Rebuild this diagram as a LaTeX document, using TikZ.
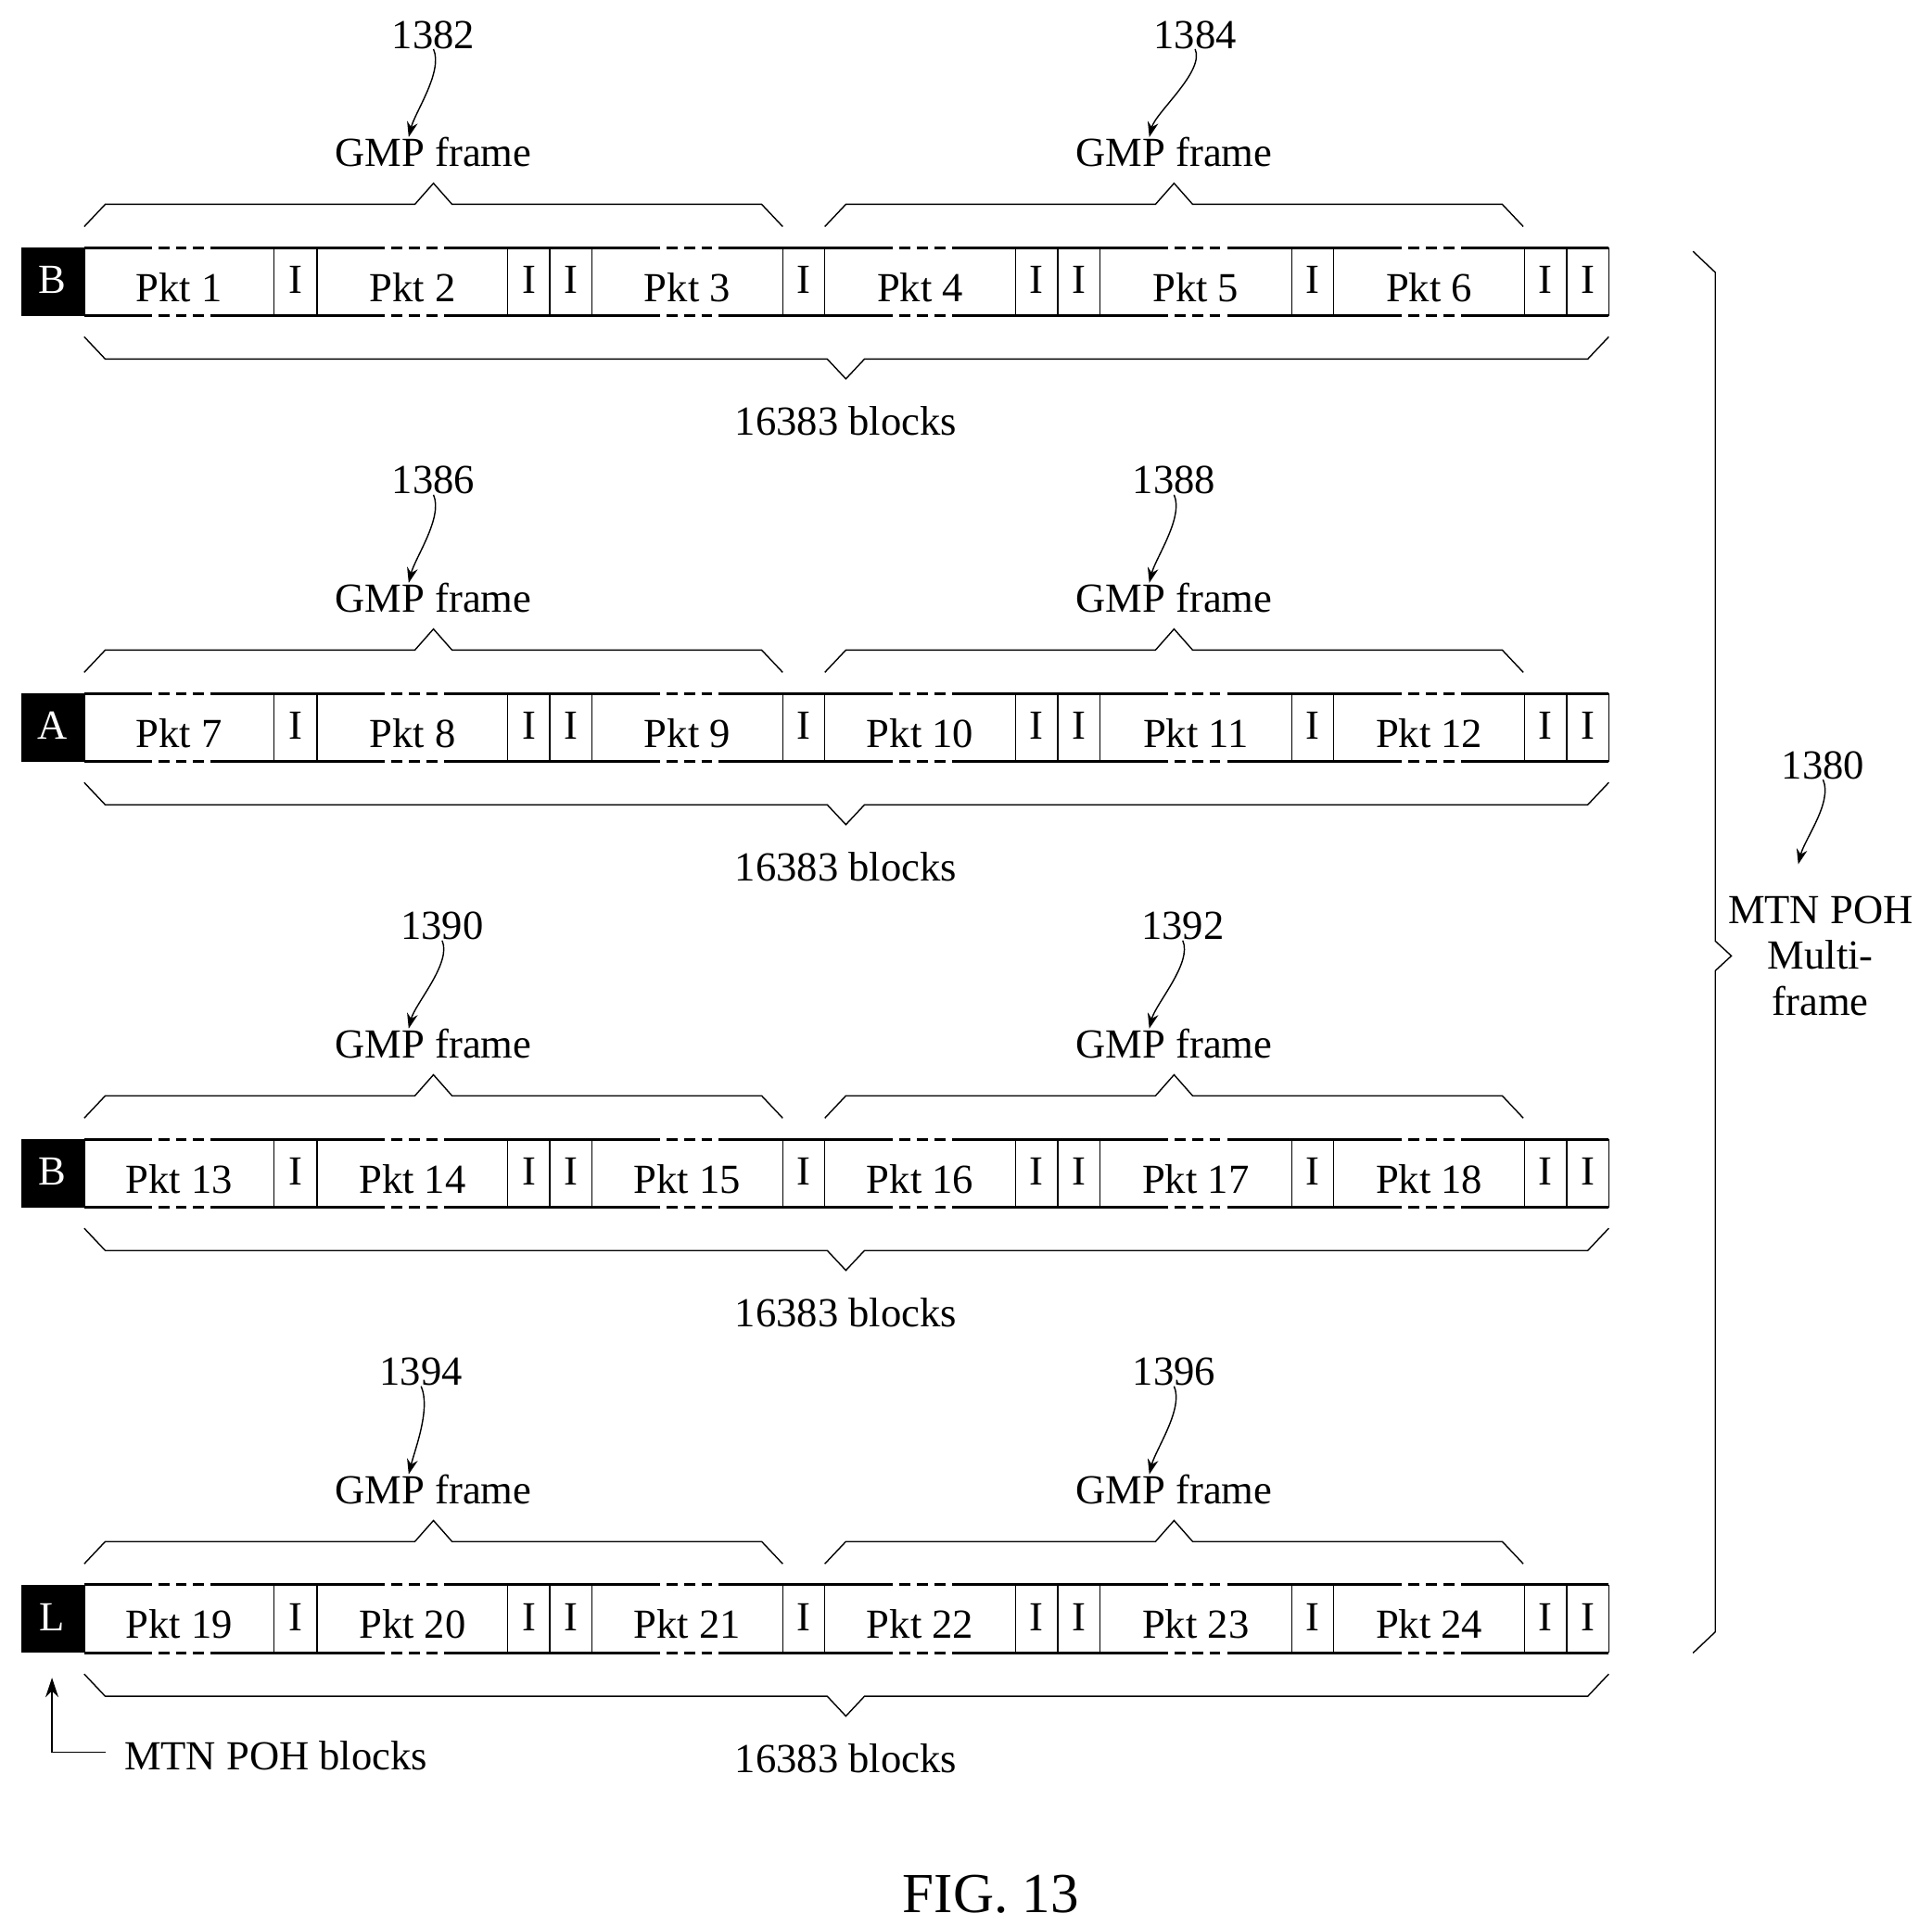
\documentclass[tikz,border=0pt]{standalone}
\usepackage{fontspec}
\setmainfont{Liberation Serif}
\usetikzlibrary{arrows.meta}
\begin{document}
\begin{tikzpicture}[x=0.02cm,y=-0.02cm,
  txt/.style={font=\fontsize{19}{19}\selectfont,inner sep=0pt},
  big/.style={font=\fontsize{26}{26}\selectfont,inner sep=0pt},
  edge/.style={line width=1.3pt},
  thin/.style={line width=0.6pt},
  ref/.style={-{Stealth[length=7pt,width=5pt]},line width=0.6pt}]
\useasboundingbox (0,0) rectangle (1560,1555);
\newcommand\pktrow[7]{%
  \def\Y{#1}%
  \fill ({17},{\Y}) rectangle ({68},{\Y+55});
  \node[txt,text=white] (L#2) at ({42},{\Y+26}) {#2};
  \foreach \a/\b/\k in {68/221/1,256/410/2,478/632/3,666/820/4,888/1043/5,1077/1231/6}{
    \pgfmathsetmacro\w{\b-\a}
    \pgfmathtruncatemacro\n{#3+\k}
    \draw[edge] ({\a},{\Y}) -- ({\a+0.3*\w},{\Y}) ({\b-0.3*\w},{\Y}) -- ({\b},{\Y});
    \draw[edge] ({\a},{\Y+55}) -- ({\a+0.3*\w},{\Y+55}) ({\b-0.3*\w},{\Y+55}) -- ({\b},{\Y+55});
    \draw[edge,dash pattern=on 5pt off 3pt] ({\a+0.3*\w},{\Y}) -- ({\b-0.3*\w},{\Y});
    \draw[edge,dash pattern=on 5pt off 3pt] ({\a+0.3*\w},{\Y+55}) -- ({\b-0.3*\w},{\Y+55});
    \draw[thin] ({\a},{\Y}) -- ({\a},{\Y+55});
    \node[txt] (p\n) at ({(\a+\b)/2},{\Y+32}) {Pkt \n};
  }
  \foreach \a/\b in {221/256,410/444,444/478,632/666,820/854,854/888,1043/1077,1231/1265,1265/1299}{
    \draw[edge] ({\a},{\Y}) -- ({\b},{\Y}) ({\a},{\Y+55}) -- ({\b},{\Y+55});
    \draw[thin] ({\a},{\Y}) -- ({\a},{\Y+55}) ({\b},{\Y}) -- ({\b},{\Y+55});
    \node[txt] at ({(\a+\b)/2},{\Y+26}) {I};
  }
  \draw[thin] (68,\Y-17) -- (85,\Y-35) -- (335,\Y-35) -- (350,\Y-52) -- (365,\Y-35) -- (615,\Y-35) -- (632,\Y-17);
  \draw[thin] (666,\Y-17) -- (683,\Y-35) -- (933,\Y-35) -- (948,\Y-52) -- (963,\Y-35) -- (1213,\Y-35) -- (1230,\Y-17);
  \draw[thin] (68,\Y+72) -- (85,\Y+90) -- (668,\Y+90) -- (683,\Y+106) -- (698,\Y+90) -- (1282,\Y+90) -- (1299,\Y+72);
  \node[txt] (g1#3) at (350,\Y-77) {GMP frame};
  \node[txt] (g2#3) at (948,\Y-77) {GMP frame};
  \node[txt] (b#3) at (683,\Y+140) {16383 blocks};
  \node[txt] (n#4) at (#5,\Y-172) {#4};
  \node[txt] (n#6) at (#7,\Y-172) {#6};
  \draw[ref] (n#4.south) .. controls ++(8,18) and ++(5,-20) .. ([xshift=-20*0.02cm]g1#3.north);
  \draw[ref] (n#6.south) .. controls ++(8,18) and ++(5,-20) .. ([xshift=-20*0.02cm,yshift=0pt]g2#3.north);
}
\pktrow{200}{B}{0}{1382}{350}{1384}{965}
\pktrow{560}{A}{6}{1386}{350}{1388}{948}
\pktrow{920}{B}{12}{1390}{357}{1392}{955}
\pktrow{1280}{L}{18}{1394}{340}{1396}{948}
% right brace
\draw[thin] (1367,203) -- (1385,220) -- (1385,760) -- (1398,772) -- (1385,784) -- (1385,1318) -- (1367,1335);
\node[txt] (n1380) at (1472,618) {1380};
\node[txt,align=center] (mtn) at (1470,772) {MTN POH\\[2pt]Multi-\\[2pt]frame};
\draw[ref] (n1380.south) .. controls ++(8,18) and ++(5,-20) .. (1452,698);
% MTN POH blocks
\coordinate (c0) at (42,1415);
\node[txt,anchor=west] (poh) at (100,1418) {MTN POH blocks};
\draw[thin,-{Stealth[length=9pt,width=6pt]}] (poh.west) ++(-15,-3) -- (c0) -- (42,1355);
\node[big] (fig) at (800,1530) {FIG. 13};
\end{tikzpicture}
\end{document}
